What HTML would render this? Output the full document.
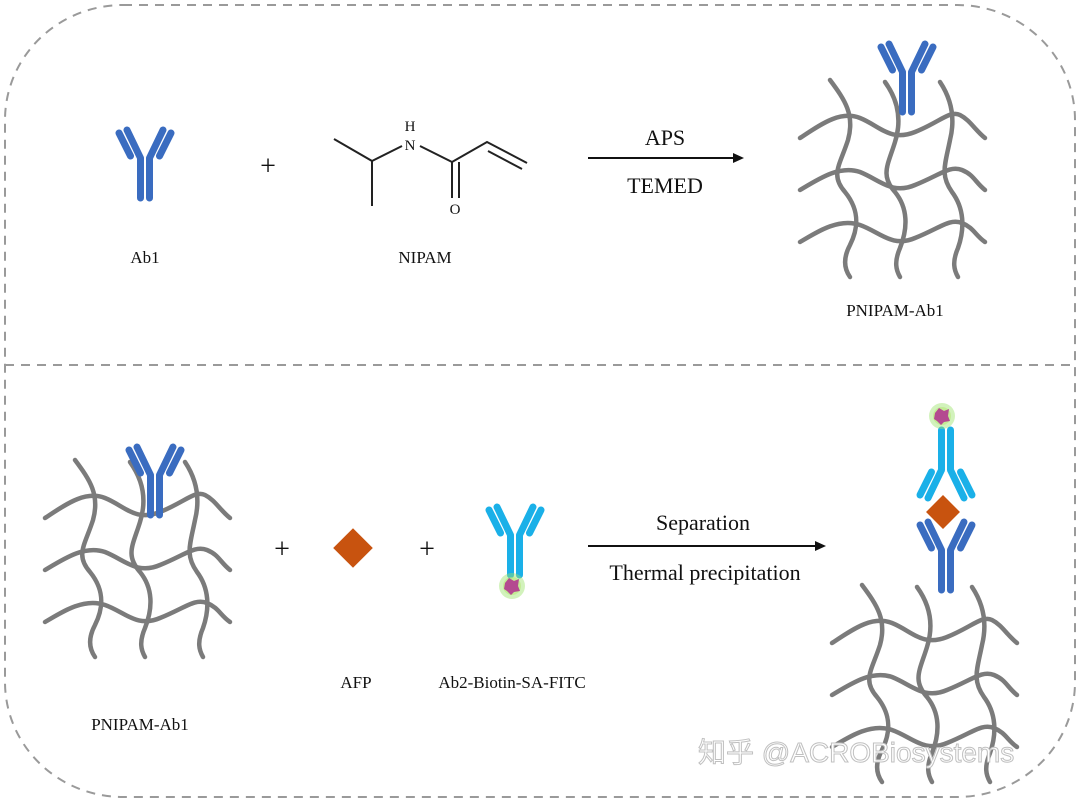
<!DOCTYPE html>
<html><head><meta charset="utf-8"><style>
html,body{margin:0;padding:0;background:#fff;}
svg{display:block;}
.t{font-family:"Liberation Serif",serif;fill:#111;text-anchor:middle;}
</style></head><body>
<svg width="1080" height="801" viewBox="0 0 1080 801" xmlns="http://www.w3.org/2000/svg">
<defs>
<g id="net" fill="none" stroke="#7b7b7b" stroke-width="4.5" stroke-linecap="round">
  <path d="M0 58 C20 45 40 30 60 38 C80 46 90 62 115 52 C140 42 150 30 160 35 S175 50 185 58"/>
  <path d="M0 110 C20 98 40 85 60 92 C80 100 92 115 115 105 C140 95 150 85 162 90 S175 102 185 110"/>
  <path d="M0 162 C20 150 40 138 60 145 C80 152 92 168 115 158 C140 148 150 138 162 143 S175 155 185 162"/>
  <path d="M30 0 C45 20 55 35 48 60 C40 85 30 95 45 112 C58 128 60 145 50 165 C42 180 45 190 50 197"/>
  <path d="M85 2 C98 20 102 40 95 62 C88 85 80 95 95 112 C108 128 108 148 100 168 C94 182 96 190 100 197"/>
  <path d="M140 2 C152 20 155 40 150 60 C145 85 140 95 152 112 C164 128 165 148 158 168 C152 182 154 190 158 197"/>
</g>
<g id="ab" fill="none" stroke-width="7" stroke-linecap="round">
  <path d="M-4.5 0 L-4.5 40 M4.5 0 L4.5 40 M-4.5 0 L-18 -28 M4.5 0 L18 -28 M-14.5 -2 L-26 -25 M14.5 -2 L26 -25"/>
</g>
<g id="fitc">
  <circle r="13" fill="#9be36b" opacity="0.45"/>
  <circle r="9" fill="#b8e87a" opacity="0.6"/>
  <path d="M-7 -3 L-3 -8 L2 -5 L7 -7 L6 0 L8 5 L2 6 L-1 9 L-5 5 L-8 3 Z" fill="#b44a90"/>
</g>
</defs>
<rect x="5" y="5" width="1070" height="792" rx="118" ry="115" fill="none" stroke="#9a9a9a" stroke-width="2" stroke-dasharray="9,7"/>
<line x1="5" y1="365" x2="1075" y2="365" stroke="#9a9a9a" stroke-width="2" stroke-dasharray="9,7"/>

<use href="#ab" x="145" y="158" stroke="#3a6cc0"/>
<text class="t" x="145" y="263" font-size="17">Ab1</text>
<text class="t" x="268" y="175" font-size="28">+</text>
<g stroke="#222" stroke-width="2" fill="none">
  <path d="M334 139 L372 161 L372 206 M372 161 L402 146 M420 146 L452 162 L452 198 M459 162 L459 198 M452 162 L487 142 L527 163 M488 151 L522 169"/>
</g>
<text class="t" x="410" y="150" font-size="15">N</text>
<text class="t" x="410" y="131" font-size="15">H</text>
<text class="t" x="455" y="214" font-size="15">O</text>
<text class="t" x="425" y="263" font-size="17">NIPAM</text>
<line x1="588" y1="158" x2="736" y2="158" stroke="#111" stroke-width="2"/>
<path d="M744 158 L733 153 L733 163 Z" fill="#111"/>
<text class="t" x="665" y="145" font-size="22">APS</text>
<text class="t" x="665" y="193" font-size="22">TEMED</text>
<use href="#net" x="800" y="80"/>
<use href="#ab" x="907" y="72" stroke="#3a6cc0"/>
<text class="t" x="895" y="316" font-size="17">PNIPAM-Ab1</text>

<use href="#net" x="45" y="460"/>
<use href="#ab" x="155" y="475" stroke="#3a6cc0"/>
<text class="t" x="140" y="730" font-size="17">PNIPAM-Ab1</text>
<text class="t" x="282" y="558" font-size="28">+</text>
<rect x="339" y="534" width="28" height="28" fill="#c8530f" transform="rotate(45 353 548)"/>
<text class="t" x="356" y="688" font-size="17">AFP</text>
<text class="t" x="427" y="558" font-size="28">+</text>
<use href="#ab" x="515" y="535" stroke="#1ab0e8"/>
<use href="#fitc" x="512" y="586"/>
<text class="t" x="512" y="688" font-size="17">Ab2-Biotin-SA-FITC</text>
<text class="t" x="703" y="530" font-size="22">Separation</text>
<line x1="588" y1="546" x2="818" y2="546" stroke="#111" stroke-width="2"/>
<path d="M826 546 L815 541 L815 551 Z" fill="#111"/>
<text class="t" x="705" y="580" font-size="22">Thermal precipitation</text>

<use href="#net" x="832" y="585"/>
<use href="#ab" x="946" y="550" stroke="#3a6cc0"/>
<use href="#ab" x="946" y="470" stroke="#1ab0e8" transform="rotate(180 946 470)"/>
<use href="#fitc" x="942" y="416"/>
<rect x="931" y="500" width="24" height="24" fill="#c8530f" transform="rotate(45 943 512)"/>

<text x="698" y="762" font-family="'Liberation Sans','Noto Sans CJK SC',sans-serif" font-size="28" fill="#fff" stroke="#c0c0c0" stroke-width="1">知乎 @ACROBiosystems</text>
</svg>
</body></html>
